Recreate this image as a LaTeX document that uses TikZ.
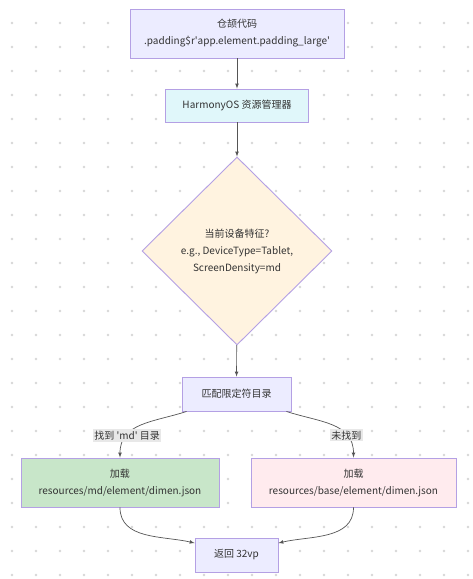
\documentclass[tikz,border=0pt]{standalone}
\usepackage{fontspec}
\setmainfont{Noto Sans CJK SC}
\usetikzlibrary{shapes.geometric}

\definecolor{edgegray}{RGB}{85,85,85}
\definecolor{dotgray}{RGB}{215,215,215}
\definecolor{boxline}{RGB}{180,160,228}
\definecolor{lilac}{RGB}{236,236,255}
\definecolor{paleblue}{RGB}{224,247,250}
\definecolor{cream}{RGB}{255,243,224}
\definecolor{palegreen}{RGB}{200,230,201}
\definecolor{palepink}{RGB}{255,235,238}
\definecolor{labelbg}{RGB}{232,232,232}
\definecolor{textgray}{RGB}{51,51,51}
\newcommand{\sq}{\textquotesingle}

\begin{document}
\begin{tikzpicture}[x=1pt, y=-1pt,
    every node/.style={font=\fontsize{10}{17}\selectfont, text=textgray},
    box/.style={draw=boxline, line width=0.9pt, align=center, inner sep=0pt},
    flow/.style={->, >=latex, draw=edgegray, line width=0.7pt},
    elabel/.style={fill=labelbg, inner sep=1.5pt}]
% Draw background and dotted grid
\fill[white] (0,0) rectangle (473,579);
\useasboundingbox (0,0) rectangle (473,579);
\foreach \x in {12,36,...,468}
    \foreach \y in {23,47,...,575}
        \fill[dotgray] (\x,\y) circle (1.4pt);
% Draw nodes
\node[box, fill=lilac, minimum width=214pt, minimum height=49pt] (code) at (237,33.5) {仓颉代码\\.padding\$r\sq app.element.padding\_large\sq};
\node[box, fill=paleblue, minimum width=143pt, minimum height=33pt] (mgr) at (237,105.5) {HarmonyOS 资源管理器};
\node[box, diamond, fill=cream, minimum width=190pt, minimum height=188pt] (feat) at (237,251) {当前设备特征?\\e.g., DeviceType=Tablet,\\ScreenDensity=md};
\node[box, fill=lilac, minimum width=109pt, minimum height=34pt] (match) at (236.5,394) {匹配限定符目录};
\node[box, fill=palegreen, minimum width=198pt, minimum height=49pt] (mdload) at (120,482.5) {加载\\resources/md/element/dimen.json};
\node[box, fill=palepink, minimum width=205pt, minimum height=49pt] (baseload) at (353.5,482.5) {加载\\resources/base/element/dimen.json};
\node[box, fill=lilac, minimum width=83pt, minimum height=34pt] (result) at (236.5,555) {返回 32vp};
% Draw connectors
\draw[flow] (code) -- (mgr);
\draw[flow] (mgr) -- (feat);
\draw[flow] (feat) -- (match);
\draw[flow] ([xshift=5pt]match.south west) to[out=198, in=90, looseness=1.1] node[elabel, pos=0.72] {找到 \sq md\sq{} 目录} (mdload.north);
\draw[flow] ([xshift=-5pt]match.south east) to[out=-18, in=90, looseness=1.1] node[elabel, pos=0.72] {未找到} (baseload.north);
\draw[flow] (mdload.south) to[out=-90, in=167] ([yshift=12pt]result.west);
\draw[flow] (baseload.south) to[out=-90, in=13] ([yshift=12pt]result.east);
\end{tikzpicture}
\end{document}
